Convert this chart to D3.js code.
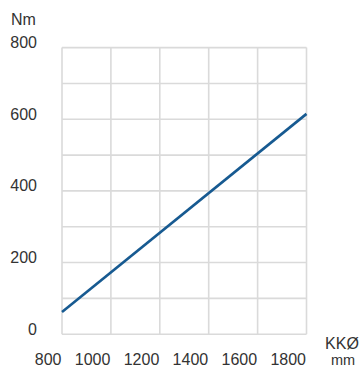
<!DOCTYPE html>
<html><head><meta charset="utf-8">
<script src="https://cdn.jsdelivr.net/npm/d3@7"></script>
<style>html,body{margin:0;padding:0;background:#fff;}</style>
</head><body>
<svg id="c" width="364" height="367"></svg>
<script>
const xTicks = [800, 1000, 1200, 1400, 1600, 1800];
const yTicks = [0, 200, 400, 600, 800];
const yGrid = [0, 100, 200, 300, 400, 500, 600, 700, 800];
const lineX = [800, 1800];
const lineY = [62, 615];
const yUnit = "Nm";
const xUnit = ["KKØ", "mm"];

const svg = d3.select("#c");
const x = d3.scaleLinear().domain([800, 1800]).range([62, 306.5]);
const y = d3.scaleLinear().domain([0, 800]).range([334.2, 47.6]);
const font = "'Liberation Sans', Arial, sans-serif";

const g = svg.append("g");
g.selectAll(".hg").data(yGrid).enter().append("line")
  .attr("x1", x(800)).attr("x2", x(1800))
  .attr("y1", d => y(d)).attr("y2", d => y(d))
  .attr("stroke", "#dadada").attr("stroke-width", 1.6);
g.selectAll(".vg").data(xTicks).enter().append("line")
  .attr("x1", d => x(d)).attr("x2", d => x(d))
  .attr("y1", y(0)).attr("y2", y(800))
  .attr("stroke", "#dadada").attr("stroke-width", 1.6);

svg.selectAll(".yl").data(yTicks).enter().append("text")
  .attr("x", 37).attr("y", d => y(d) + 0.5)
  .attr("text-anchor", "end")
  .attr("font-family", font).attr("font-size", 16).attr("fill", "#333")
  .text(d => d);

svg.selectAll(".xl").data(xTicks).enter().append("text")
  .attr("x", d => x(d) - 0.5).attr("y", 365)
  .attr("text-anchor", "end")
  .attr("font-family", font).attr("font-size", 16).attr("fill", "#333")
  .text(d => d);

svg.append("text").attr("x", 23.5).attr("y", 25).attr("text-anchor", "middle")
  .attr("font-family", font).attr("font-size", 16).attr("fill", "#333").text(yUnit);
svg.append("text").attr("x", 342).attr("y", 349).attr("text-anchor", "middle")
  .attr("font-family", font).attr("font-size", 16).attr("fill", "#333").text(xUnit[0]);
svg.append("text").attr("x", 343).attr("y", 365).attr("text-anchor", "middle")
  .attr("font-family", font).attr("font-size", 14.5).attr("fill", "#333").text(xUnit[1]);

const pts = lineX.map((v, i) => [v, lineY[i]]);
svg.append("path").datum(pts)
  .attr("d", d3.line().x(d => x(d[0])).y(d => y(d[1])))
  .attr("fill", "none").attr("stroke", "#175a91").attr("stroke-width", 2.6);
</script>
</body></html>
